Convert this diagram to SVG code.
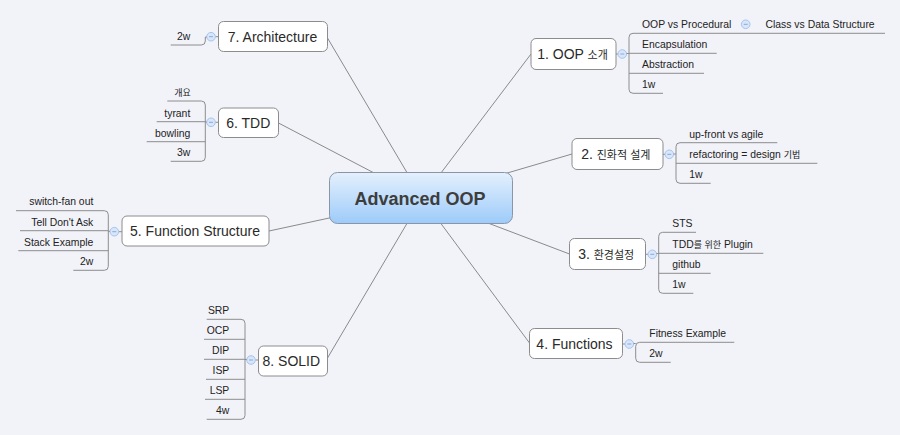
<svg xmlns="http://www.w3.org/2000/svg" width="900" height="435" viewBox="0 0 900 435">
<defs>
<linearGradient id="cg" x1="0" y1="0" x2="0" y2="1">
<stop offset="0" stop-color="#e4f0fd"/>
<stop offset="1" stop-color="#9dcbfa"/>
</linearGradient>
</defs>
<style>
text{font-family:'Liberation Sans','Noto Sans CJK KR',sans-serif;fill:#222}
.main{font-size:14px;text-anchor:middle;fill:#2a2a2a}
.ch{font-size:10.4px}
.l{text-anchor:end}
.k1{font-size:11px}
.k2{font-size:9px}
.box{fill:#fff;stroke:#8c8c8c;stroke-width:1}
.conn{stroke:#8a8a8a;stroke-width:1;fill:none}
.br{stroke:#8d8d8d;stroke-width:1;fill:none}
.tg{fill:#d8e6fa;stroke:#a6c3ee;stroke-width:1}
.tm{stroke:#8ea8d6;stroke-width:1}
</style>
<rect x="0" y="0" width="900" height="435" fill="#f2f3f9"/>
<g id="connectors" class="conn">
<line x1="422" y1="198" x2="531" y2="54"/>
<line x1="422" y1="198" x2="572" y2="154"/>
<line x1="422" y1="198" x2="569.5" y2="254"/>
<line x1="422" y1="198" x2="529.5" y2="343"/>
<line x1="422" y1="198" x2="269" y2="231"/>
<line x1="422" y1="198" x2="278.5" y2="123"/>
<line x1="422" y1="198" x2="327.5" y2="38"/>
<line x1="422" y1="198" x2="327.5" y2="358"/>
</g>
<g id="center">
<rect x="329.5" y="172.5" width="183" height="51" rx="8" fill="url(#cg)" stroke="#8a96a6"/>
<text x="420" y="204.5" style="font-size:18px;font-weight:bold;text-anchor:middle;fill:#3d3d3d">Advanced OOP</text>
</g>
<g id="node1">
<rect class="box" x="531" y="38.5" width="85" height="31" rx="5"/>
<text class="main" x="572.5" y="59">1. OOP <tspan class="k1">소개</tspan></text>
<line class="br" x1="616" y1="54" x2="618" y2="54"/>
<circle class="tg" cx="622.3" cy="54" r="4.3"/><line class="tm" x1="620.3" y1="54" x2="624.3" y2="54"/>
<path class="br" d="M626.6 53.5 H629 M633 33.3 Q629 33.3 629 37.3 V89.3 Q629 93.3 633 93.3"/>
<path class="br" d="M633 33.3 H885 M629 53.3 H716.7 M629 73.3 H704 M633 93.3 H663"/>
<text class="ch" x="642" y="28.3">OOP vs Procedural</text>
<circle class="tg" cx="745.7" cy="24.3" r="4.3"/><line class="tm" x1="743.7" y1="24.3" x2="747.7" y2="24.3"/>
<text class="ch" x="765.5" y="28.3">Class vs Data Structure</text>
<text class="ch" x="642" y="48.3">Encapsulation</text>
<text class="ch" x="642" y="68.3">Abstraction</text>
<text class="ch" x="642" y="88.3">1w</text>
</g>
<g id="node2">
<rect class="box" x="572" y="138.5" width="91" height="31" rx="5"/>
<text class="main" x="615.8" y="159">2. <tspan class="k1">진화적 설계</tspan></text>
<line class="br" x1="663" y1="154.3" x2="665" y2="154.3"/>
<circle class="tg" cx="669.3" cy="154.3" r="4.3"/><line class="tm" x1="667.3" y1="154.3" x2="671.3" y2="154.3"/>
<path class="br" d="M673.6 154 H676 M680 142.7 Q676 142.7 676 146.7 V179.3 Q676 183.3 680 183.3"/>
<path class="br" d="M680 142.7 H777.3 M676 163.3 H817.3 M680 183.3 H710.7"/>
<text class="ch" x="689.3" y="137.7">up-front vs agile</text>
<text class="ch" x="689.3" y="158.3">refactoring = design <tspan class="k2">기법</tspan></text>
<text class="ch" x="689.3" y="178.3">1w</text>
</g>
<g id="node3">
<rect class="box" x="569.5" y="238.5" width="76" height="31" rx="5"/>
<text class="main" x="606.2" y="259">3. <tspan class="k1">환경설정</tspan></text>
<line class="br" x1="645.5" y1="254.3" x2="648" y2="254.3"/>
<circle class="tg" cx="652.3" cy="254.3" r="4.3"/><line class="tm" x1="650.3" y1="254.3" x2="654.3" y2="254.3"/>
<path class="br" d="M656.6 253.5 H658.7 M662.7 232.3 Q658.7 232.3 658.7 236.3 V289.3 Q658.7 293.3 662.7 293.3"/>
<path class="br" d="M662.7 232.3 H696 M658.7 253.3 H763.3 M658.7 273.3 H710.7 M662.7 293.3 H693.3"/>
<text class="ch" x="672.3" y="227.3">STS</text>
<text class="ch" x="672.3" y="248.3">TDD<tspan class="k2">를 위한</tspan> Plugin</text>
<text class="ch" x="672.3" y="268.3">github</text>
<text class="ch" x="672.3" y="288.3">1w</text>
</g>
<g id="node4">
<rect class="box" x="529.5" y="328.5" width="93" height="30" rx="5"/>
<text class="main" x="574.5" y="348.5">4. Functions</text>
<line class="br" x1="622.5" y1="344" x2="625" y2="344"/>
<circle class="tg" cx="629.3" cy="344" r="4.3"/><line class="tm" x1="627.3" y1="344" x2="631.3" y2="344"/>
<path class="br" d="M633.6 343.5 H635.7 M639.7 342.3 Q635.7 342.3 635.7 346.3 V358.3 Q635.7 362.3 639.7 362.3"/>
<path class="br" d="M639.7 342.3 H734.3 M639.7 362.3 H670.7"/>
<text class="ch" x="649.3" y="337.3">Fitness Example</text>
<text class="ch" x="649.3" y="357.3">2w</text>
</g>
<g id="node5">
<rect class="box" x="122" y="216" width="147" height="30" rx="5"/>
<text class="main" x="195" y="236">5. Function Structure</text>
<line class="br" x1="122" y1="231.7" x2="118.6" y2="231.7"/>
<circle class="tg" cx="114.3" cy="231.7" r="4.3"/><line class="tm" x1="112.3" y1="231.7" x2="116.3" y2="231.7"/>
<path class="br" d="M110 231.3 H108.3 M104.3 210.7 Q108.3 210.7 108.3 214.7 V266.3 Q108.3 270.3 104.3 270.3"/>
<path class="br" d="M104.3 210.7 H16 M108.3 230.7 H20 M108.3 250.7 H18.3 M104.3 270.3 H73.3"/>
<text class="ch l" x="93.3" y="205.3">switch-fan out</text>
<text class="ch l" x="93.3" y="225.5">Tell Don't Ask</text>
<text class="ch l" x="93.3" y="245.5">Stack Example</text>
<text class="ch l" x="93.3" y="265.3">2w</text>
</g>
<g id="node6">
<rect class="box" x="218.5" y="108" width="60" height="29.5" rx="5"/>
<text class="main" x="248.3" y="127.7">6. TDD</text>
<line class="br" x1="218.5" y1="122.3" x2="215.3" y2="122.3"/>
<circle class="tg" cx="211" cy="122.3" r="4.3"/><line class="tm" x1="209" y1="122.3" x2="213" y2="122.3"/>
<path class="br" d="M206.7 122 H205.3 M201.3 101 Q205.3 101 205.3 105 V157.3 Q205.3 161.3 201.3 161.3"/>
<path class="br" d="M201.3 101 H167.3 M205.3 121.7 H156.7 M205.3 141.7 H146.7 M201.3 161.3 H170.7"/>
<text class="ch l" x="190.7" y="95.5"><tspan class="k2">개요</tspan></text>
<text class="ch l" x="190.3" y="116.5">tyrant</text>
<text class="ch l" x="190.3" y="136.5">bowling</text>
<text class="ch l" x="190.3" y="156.3">3w</text>
</g>
<g id="node7">
<rect class="box" x="218.5" y="21.5" width="109" height="30" rx="5"/>
<text class="main" x="272.5" y="41.5">7. Architecture</text>
<line class="br" x1="218.5" y1="36.7" x2="215.3" y2="36.7"/>
<circle class="tg" cx="211" cy="36.7" r="4.3"/><line class="tm" x1="209" y1="36.7" x2="213" y2="36.7"/>
<path class="br" d="M206.7 37 H205.3 V41 Q205.3 45 201.3 45 H170.7"/>
<text class="ch l" x="190.3" y="40">2w</text>
</g>
<g id="node8">
<rect class="box" x="258.5" y="346" width="69" height="30" rx="5"/>
<text class="main" x="291.3" y="366">8. SOLID</text>
<line class="br" x1="258.5" y1="360" x2="255.3" y2="360"/>
<circle class="tg" cx="251" cy="360" r="4.3"/><line class="tm" x1="249" y1="360" x2="253" y2="360"/>
<path class="br" d="M246.7 359.5 H245 M241 319.3 Q245 319.3 245 323.3 V415.3 Q245 419.3 241 419.3"/>
<path class="br" d="M241 319.3 H206.7 M245 339.3 H204 M245 359.3 H204 M245 379.3 H206 M245 399.3 H205 M241 419.3 H206.7"/>
<text class="ch l" x="229.3" y="314.3">SRP</text>
<text class="ch l" x="229.3" y="334.3">OCP</text>
<text class="ch l" x="229.3" y="354.3">DIP</text>
<text class="ch l" x="229.3" y="374.3">ISP</text>
<text class="ch l" x="229.3" y="394.3">LSP</text>
<text class="ch l" x="229.3" y="414.3">4w</text>
</g>
</svg>
